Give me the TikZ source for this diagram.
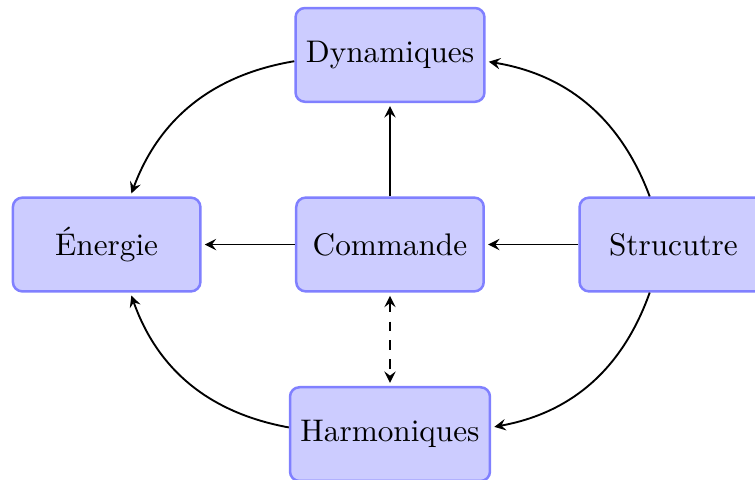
\documentclass[tikz,border=0pt]{standalone}
\usepackage{fontspec}
\usetikzlibrary{positioning}

\begin{document}
\begin{tikzpicture}[
    block/.style={
        rectangle,
        draw=blue!50,
        fill=blue!20,
        thick,
        rounded corners=3pt,
        minimum width=60pt,
        minimum height=30pt
    },
    arrow/.style={
        ->,
        >=stealth,
        semithick,
        shorten >=1pt
    },
    node distance=1.05cm
]

    % -- frame of the picture --
    \useasboundingbox (-124.8pt,-75.04pt) rectangle (116.8pt,78.24pt);

    % -- blocks --
    \node[block] (commande) at (0,0) {Commande};
    \node[block, above=of commande] (dynamiques) {Dynamiques};
    \node[block, left=of commande] (energie) {Énergie};
    \node[block, right=of commande] (structure) {Strucutre};
    \node[block, below=of commande] (harmoniques) {Harmoniques};

    % Straight links
    \draw[arrow] (commande) -- (dynamiques);
    \draw[arrow] (commande) -- (energie);
    \draw[arrow] (structure) -- (commande);
    \draw[arrow, <->, dashed, shorten <=1pt] (commande) -- (harmoniques);

    % Curved links
    \draw[arrow] (dynamiques) to[bend right] (energie);
    \draw[arrow] (harmoniques) to[bend left] (energie);
    \draw[arrow] (structure) to[bend right] (dynamiques);
    \draw[arrow] (structure) to[bend left] (harmoniques);

\end{tikzpicture}
\end{document}
